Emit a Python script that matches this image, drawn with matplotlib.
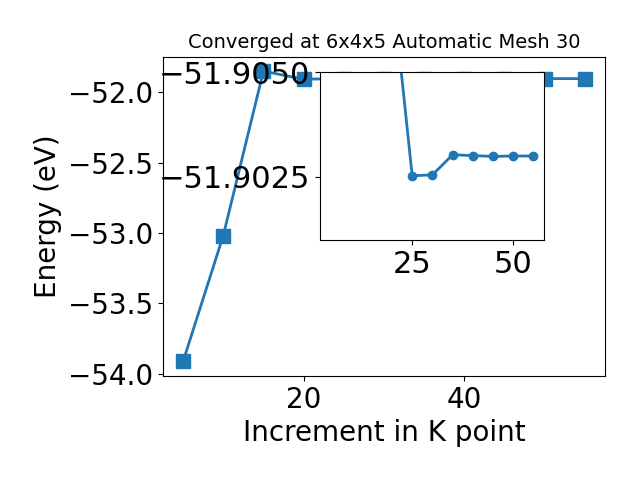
import matplotlib
matplotlib.use("Agg")
import matplotlib.pyplot as plt

# k point increment and total energy (eV)
kpoints = [5, 10, 15, 20, 25, 30, 35, 40, 45, 50, 55]
energy = [-53.912, -53.018, -51.850, -51.9071, -51.90253, -51.90255,
          -51.90303, -51.90301, -51.90299, -51.90300, -51.90300]

fig = plt.figure(figsize=(6.4, 4.8), dpi=100)
ax = fig.add_axes([0.2547, 0.2167, 0.6903, 0.6653])
ax.plot(kpoints, energy, marker="s", markersize=10, lw=2)
ax.set_xlabel("Increment in K point", fontsize=20)
ax.set_ylabel("Energy (eV)", fontsize=20)
ax.tick_params(labelsize=20)
ax.set_title("Converged at 6x4x5 Automatic Mesh 30", fontsize=14)

# zoomed view of the converged part (from 20 on)
ins = fig.add_axes([0.5, 0.5, 0.35, 0.35])
ins.plot(kpoints[3:], energy[3:], marker="o", markersize=6, lw=2)
ins.set_xlim(2.2, 57.6)
ins.set_ylim(-51.901, -51.905)
ins.set_yticks([-51.905, -51.9025])
ins.set_yticklabels(["\u221251.9050", "\u221251.9025"])
ins.set_xticks([25, 50])
ins.tick_params(labelsize=22)

plt.savefig("out.png")
